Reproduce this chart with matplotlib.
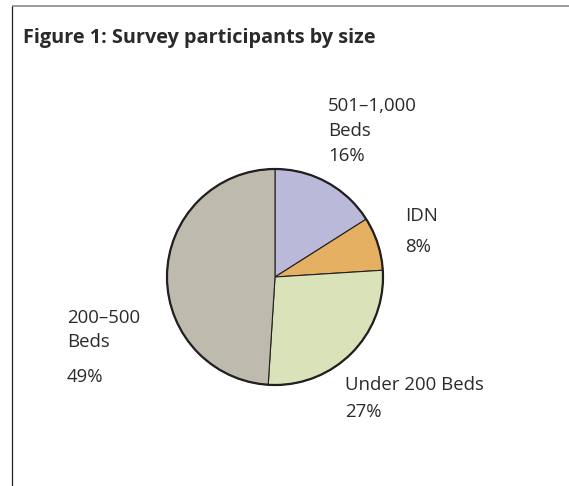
import matplotlib
matplotlib.use("Agg")
import matplotlib.pyplot as plt
from matplotlib.patches import Circle

# # Data

labels = ["501–1,000 Beds", "IDN", "Under 200 Beds", "200–500 Beds"]
shares = [16, 8, 27, 49]
colors = ["#bbb9d9", "#e5b062", "#dae2ba", "#bebaad"]

# label text, one entry per line
label_lines = [
    ["501–1,000", "Beds", "16%"],
    ["IDN", "8%"],
    ["Under 200 Beds", "27%"],
    ["200–500", "Beds", "49%"],
]

W, H = 569, 486
TEXT = "#2b2a29"
EDGE = "#231f20"

# # Figure in pixel coordinates

fig = plt.figure(figsize=(W / 100, H / 100), dpi=100)
ax = fig.add_axes([0, 0, 1, 1])

cx, cy, r = 275, H - 277, 108
wedges, _ = ax.pie(shares, colors=colors, startangle=90, counterclock=False,
                   center=(cx, cy), radius=r,
                   wedgeprops=dict(edgecolor=EDGE, linewidth=0.8))
ax.add_patch(Circle((cx, cy), r, fill=False, edgecolor=EDGE, linewidth=1.6))

ax.set_xlim(0, W)
ax.set_ylim(0, H)
ax.set_aspect("auto")
ax.axis("off")

# frame: grey top rule and dark left rule
ax.plot([12, W], [H - 6, H - 6], color="#8a8a8a", linewidth=1.2, solid_capstyle="butt")
ax.plot([12, 12], [H - 6, 0], color=EDGE, linewidth=0.9, solid_capstyle="butt")

ax.text(23, H - 38, "Figure 1: Survey participants by size", family="Open Sans",
        fontweight="bold", fontsize=14.3, color=TEXT, va="center", ha="left")

# label anchor (x, list of line centres in px from top)
anchors = [
    (328, [106, 131, 156]),
    (405, [216, 247]),
    (345, [385, 412]),
    (67, [318, 342, 377]),
]
for lines, (x, ys) in zip(label_lines, anchors):
    for line, y in zip(lines, ys):
        ax.text(x, H - y, line, family="Open Sans", fontsize=13.4, color=TEXT,
                va="center", ha="left")

plt.savefig("out.png", dpi=100)
